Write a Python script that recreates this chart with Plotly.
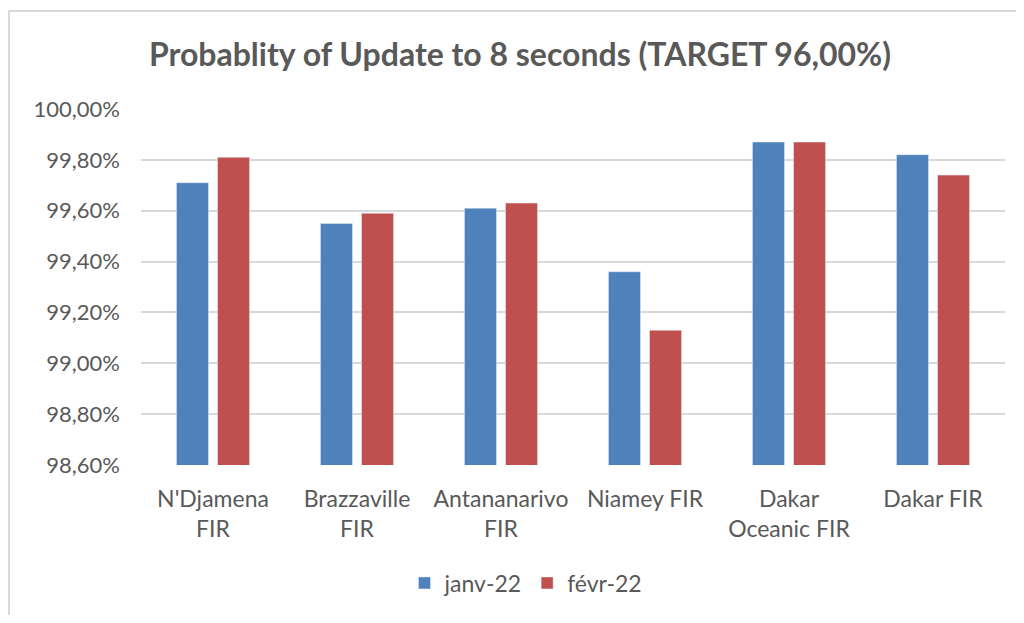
import plotly.graph_objects as go

categories = ["N'Djamena<br>FIR", "Brazzaville<br>FIR", "Antananarivo<br>FIR",
              "Niamey FIR", "Dakar<br>Oceanic FIR", "Dakar FIR"]
jan_values = [0.9971, 0.9955, 0.9961, 0.9936, 0.9987, 0.9982]
feb_values = [0.9981, 0.9959, 0.9963, 0.9913, 0.9987, 0.9974]
series_names = ["janv-22", "févr-22"]
tick_values = [0.986, 0.988, 0.990, 0.992, 0.994, 0.996, 0.998, 1.000]

font_family = "Lato, 'Open Sans', sans-serif"
grey = "#595959"

W, H = 1008, 607
L, R, T, B = 133, 11, 101, 150
PW, PH = W - L - R, H - T - B

def px_x(x):
    return (x - L) / PW

def px_y(y):
    return (H - B - y) / PH

fig = go.Figure()
fig.add_trace(go.Bar(x=categories, y=jan_values, name=series_names[0],
                     marker=dict(color="#4F81BD")))
fig.add_trace(go.Bar(x=categories, y=feb_values, name=series_names[1],
                     marker=dict(color="#C0504D")))

fig.update_layout(
    width=W, height=H,
    separators=", ",
    paper_bgcolor="white", plot_bgcolor="white",
    margin=dict(l=L, r=R, t=T, b=B),
    barmode="group", bargap=0.43, bargroupgap=0.22,
    font=dict(family=font_family, color=grey, size=22),
    title=dict(text="<b>Probablity of Update to 8 seconds (TARGET 96,00%)</b>",
               x=px_x(512), xanchor="center", xref="paper",
               y=1 - 47 / H, yanchor="middle",
               font=dict(size=32, color=grey, family=font_family)),
    xaxis=dict(showgrid=False, showline=False, ticks="", ticklabelstandoff=18,
               tickfont=dict(size=23, color=grey)),
    yaxis=dict(range=[0.986, 1.000], tickvals=tick_values, tickformat=".2%",
               showgrid=True, gridcolor="#D9D9D9", gridwidth=2,
               zeroline=False, showline=False, ticks="", ticklabelstandoff=20,
               tickfont=dict(size=22, color=grey)),
    legend=dict(orientation="h", x=px_x(518), xanchor="center",
                y=px_y(575), yanchor="middle",
                font=dict(size=23, color=grey)),
    showlegend=True,
    shapes=[dict(type="rect", xref="paper", yref="paper",
                 x0=px_x(1), x1=px_x(W + 50),
                 y0=px_y(H + 50), y1=px_y(3),
                 line=dict(color="#D9D9D9", width=2), layer="below")],
)

fig.write_html("out.html")
